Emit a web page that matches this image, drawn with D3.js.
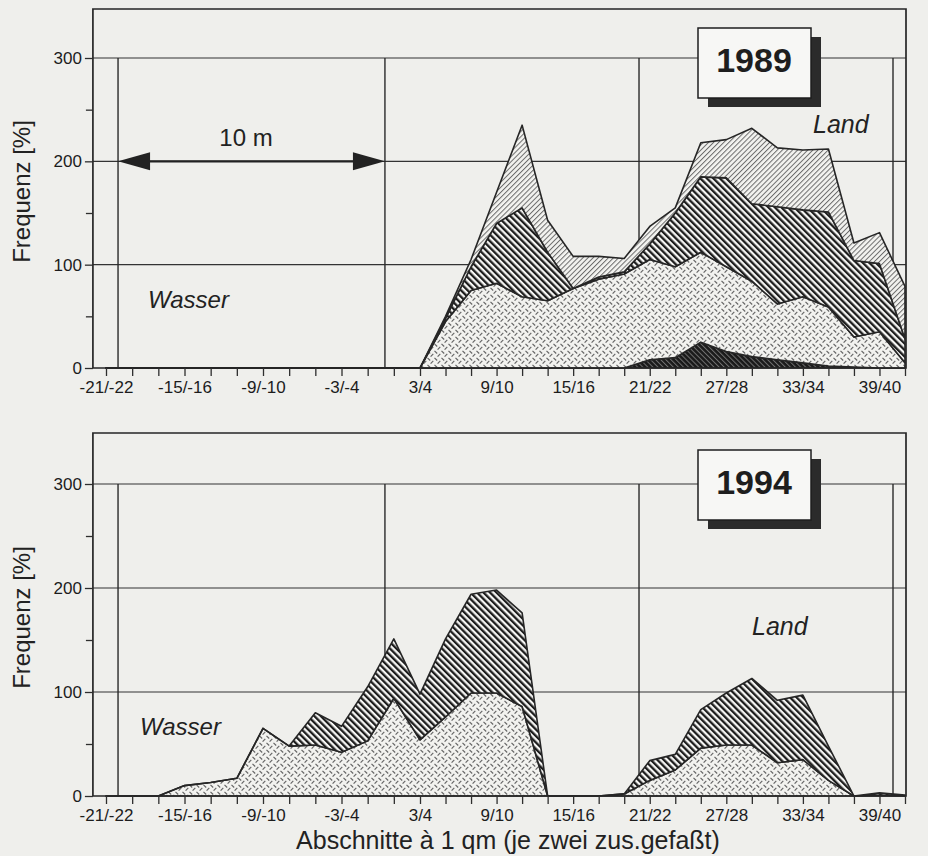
<!DOCTYPE html>
<html lang="de">
<head>
<meta charset="utf-8">
<title>Frequenz 1989 / 1994</title>
<script src="https://cdn.jsdelivr.net/npm/d3@7"></script>
<style>
  body { margin: 0; background: #efefec; }
  svg { display: block; font-family: "Liberation Sans", Arial, Helvetica, sans-serif; }
  .tick line { stroke: #2e2e2e; stroke-width: 1.3; }
  .tick text { fill: #1c1c1c; font-size: 17px; font-family: "Liberation Sans", Arial, sans-serif; }
</style>
</head>
<body>
<div id="chart"></div>
<script>
// ========== DATA ==========
// sections along the transect (two 1 qm sections per point)
const sections = ["-21/-22", "-19/-20", "-17/-18", "-15/-16", "-13/-14", "-11/-12", "-9/-10", "-7/-8",
  "-5/-6", "-3/-4", "-1/-2", "1/2", "3/4", "5/6", "7/8", "9/10", "11/12", "13/14", "15/16", "17/18",
  "19/20", "21/22", "23/24", "25/26", "27/28", "29/30", "31/32", "33/34", "35/36", "37/38", "39/40", "41/42"];
const tickLabels = ["-21/-22", "-15/-16", "-9/-10", "-3/-4", "3/4", "9/10", "15/16", "21/22", "27/28", "33/34", "39/40"];
const yTicks = [0, 100, 200, 300];
const yMinorTicks = [50, 150, 250];
// reference lines (section index) framing the 10 m stretches
const markerPos = [0.46, 10.66, 20.58, 30.53];

// 1989, stacked from the bottom
const dark1989   = [0,0,0,0,0,0,0,0,0,0,0,0,0,0,0,0,0,0,0,0,0, 8,10,25,16,11, 8, 5, 2, 1, 0, 0];
const dotted1989 = [0,0,0,0,0,0,0,0,0,0,0,0,0,45,75,82,69,65,77,86,91,97,88,87,82,73,54,64,57,29,35, 5];
const hatch1989  = [0,0,0,0,0,0,0,0,0,0,0,0,0, 3,23,58,86,47, 0, 2, 2,15,52,73,86,75,94,84,92,74,66,23];
const light1989  = [0,0,0,0,0,0,0,0,0,0,0,0,0, 2, 7,30,80,31,31,20,13,17, 5,33,37,73,57,58,61,17,30,51];

// 1994, stacked from the bottom
const dotted1994 = [0,0,0,10,13,17,65,48,49,42,53,94,54,76,99,99,86,0,0,0,2,15,25,46,49,49,32,35,15,0,1,0];
const hatch1994  = [0,0,0, 0, 0, 0, 0, 0,31,25,52,57,44,75,95,99,90,0,0,0,0,19,15,37,50,64,60,62,33,0,2,1];

// ========== LAYOUT ==========
const width = 928, height = 856;
const ink = "#262626";

const xScale = d3.scaleLinear().domain([0, 12, 31]).range([106, 420, 905]);
const leftX = xScale(-0.5);
const rightX = 906;

const panels = [
  {
    year: "1989", top: 9, base: 368, y300: 58,
    keys: ["dark", "dotted", "hatch", "light"],
    series: { dark: dark1989, dotted: dotted1989, hatch: hatch1989, light: light1989 },
    wasser: [148, 308], land: [813, 133], box: [698, 28], arrow: true
  },
  {
    year: "1994", top: 433, base: 796, y300: 484,
    keys: ["dotted", "hatch"],
    series: { dotted: dotted1994, hatch: hatch1994 },
    wasser: [140, 735], land: [752, 635], box: [698, 450], arrow: false
  }
];

const fills = { dark: "url(#pDark)", dotted: "url(#pDots)", hatch: "url(#pHatch)", light: "url(#pLight)" };

const svg = d3.select("#chart")
  .append("svg")
  .attr("width", width)
  .attr("height", height);

// ========== PATTERNS ==========
const defs = svg.append("defs");

const dots = defs.append("pattern").attr("id", "pDots")
  .attr("patternUnits", "userSpaceOnUse").attr("width", 7).attr("height", 7);
dots.append("rect").attr("width", 7).attr("height", 7).attr("fill", "#f2f2ef");
dots.append("path").attr("d", "M0.5,0.8 L3.2,3.5 M3.6,6.6 L6.3,3.9")
  .attr("stroke", "#666").attr("stroke-width", 1.2).attr("fill", "none");

const hatch = defs.append("pattern").attr("id", "pHatch")
  .attr("patternUnits", "userSpaceOnUse").attr("width", 4.6).attr("height", 4.6)
  .attr("patternTransform", "rotate(-45)");
hatch.append("rect").attr("width", 4.6).attr("height", 4.6).attr("fill", "#f6f6f4");
hatch.append("rect").attr("width", 2.3).attr("height", 4.6).attr("fill", "#1c1c1c");

const light = defs.append("pattern").attr("id", "pLight")
  .attr("patternUnits", "userSpaceOnUse").attr("width", 3.6).attr("height", 3.6)
  .attr("patternTransform", "rotate(45)");
light.append("rect").attr("width", 3.6).attr("height", 3.6).attr("fill", "#f3f3f0");
light.append("rect").attr("width", 1).attr("height", 3.6).attr("fill", "#6a6a6a");

const dark = defs.append("pattern").attr("id", "pDark")
  .attr("patternUnits", "userSpaceOnUse").attr("width", 3.6).attr("height", 3.6)
  .attr("patternTransform", "rotate(-45)");
dark.append("rect").attr("width", 3.6).attr("height", 3.6).attr("fill", "#1a1a1a");
dark.append("rect").attr("width", 1).attr("height", 3.6).attr("fill", "#707070");

// ========== ONE PANEL ==========
const drawPanel = (p) => {
  const yScale = d3.scaleLinear().domain([0, 300]).range([p.base, p.y300]);
  const g = svg.append("g");

  // grid lines
  g.selectAll(".grid")
    .data([100, 200, 300])
    .join("line")
    .attr("x1", leftX).attr("x2", rightX)
    .attr("y1", d => yScale(d)).attr("y2", d => yScale(d))
    .attr("stroke", "#333").attr("stroke-width", 1.2);

  // vertical reference lines
  g.selectAll(".marker")
    .data(markerPos)
    .join("line")
    .attr("x1", d => xScale(d)).attr("x2", d => xScale(d))
    .attr("y1", yScale(300)).attr("y2", p.base)
    .attr("stroke", "#2a2a2a").attr("stroke-width", 1.4);

  // stacked areas
  const rows = sections.map((s, i) => {
    const row = { i };
    p.keys.forEach(k => { row[k] = p.series[k][i]; });
    return row;
  });
  const stacked = d3.stack().keys(p.keys)(rows);
  const area = d3.area()
    .x(d => xScale(d.data.i))
    .y0(d => yScale(d[0]))
    .y1(d => yScale(d[1]));

  g.selectAll(".layer")
    .data(stacked)
    .join("path")
    .attr("d", area)
    .attr("fill", d => fills[d.key])
    .attr("stroke", ink)
    .attr("stroke-width", 1.6)
    .attr("stroke-linejoin", "round");

  // frame
  g.append("path")
    .attr("d", `M${leftX},${p.base} V${p.top} H${rightX} V${p.base} Z`)
    .attr("fill", "none").attr("stroke", ink).attr("stroke-width", 1.7);

  // bottom axis
  const bottomAxis = d3.axisBottom(xScale)
    .tickValues(d3.range(sections.length))
    .tickFormat(i => tickLabels.includes(sections[i]) ? sections[i] : "")
    .tickSize(8).tickSizeOuter(0).tickPadding(5);
  const gx = g.append("g").attr("transform", `translate(0, ${p.base})`).call(bottomAxis);
  gx.select(".domain").remove();

  // left axis with minor ticks
  const leftAxis = d3.axisLeft(yScale).tickValues(yTicks).tickSize(8).tickPadding(3);
  const gy = g.append("g").attr("transform", `translate(${leftX}, 0)`).call(leftAxis);
  gy.select(".domain").remove();
  const minorAxis = d3.axisLeft(yScale).tickValues(yMinorTicks).tickSize(7).tickFormat("");
  const gm = g.append("g").attr("transform", `translate(${leftX}, 0)`).call(minorAxis);
  gm.select(".domain").remove();

  // y title
  g.append("text")
    .text("Frequenz [%]")
    .attr("transform", `translate(30, ${(p.top + p.base) / 2 + 3}) rotate(-90)`)
    .attr("text-anchor", "middle")
    .attr("font-size", 24).attr("fill", "#222");

  // labels
  g.append("text").text("Wasser")
    .attr("x", p.wasser[0]).attr("y", p.wasser[1])
    .attr("font-size", 24).attr("font-style", "italic").attr("fill", "#222");
  g.append("text").text("Land")
    .attr("x", p.land[0]).attr("y", p.land[1])
    .attr("font-size", 25).attr("font-style", "italic").attr("fill", "#222");

  // year box with shadow
  const [bx, by] = p.box;
  g.append("rect").attr("x", bx + 10).attr("y", by + 9).attr("width", 113).attr("height", 70).attr("fill", "#2b2b2b");
  g.append("rect").attr("x", bx).attr("y", by).attr("width", 113).attr("height", 70)
    .attr("fill", "#f7f7f5").attr("stroke", "#1e1e1e").attr("stroke-width", 1.5);
  g.append("text").text(p.year)
    .attr("x", bx + 56).attr("y", by + 44)
    .attr("text-anchor", "middle")
    .attr("font-size", 34).attr("font-weight", "bold").attr("fill", "#1e1e1e");

  // 10 m arrow
  if (p.arrow) {
    const ay = yScale(200);
    const a0 = xScale(markerPos[0]), a1 = xScale(markerPos[1]);
    g.append("line").attr("x1", a0 + 20).attr("x2", a1 - 20).attr("y1", ay).attr("y2", ay)
      .attr("stroke", "#222").attr("stroke-width", 2.2);
    g.append("path").attr("d", `M${a0},${ay} L${a0 + 32},${ay - 9} L${a0 + 32},${ay + 9} Z`).attr("fill", "#222");
    g.append("path").attr("d", `M${a1},${ay} L${a1 - 32},${ay - 9} L${a1 - 32},${ay + 9} Z`).attr("fill", "#222");
    g.append("text").text("10 m")
      .attr("x", 246).attr("y", ay - 15)
      .attr("text-anchor", "middle")
      .attr("font-size", 24).attr("fill", "#222");
  }
};

panels.forEach(drawPanel);

// x title
svg.append("text")
  .text("Abschnitte à 1 qm (je zwei zus.gefaßt)")
  .attr("x", 508).attr("y", 849)
  .attr("text-anchor", "middle")
  .attr("font-size", 25).attr("fill", "#222");
</script>
</body>
</html>
